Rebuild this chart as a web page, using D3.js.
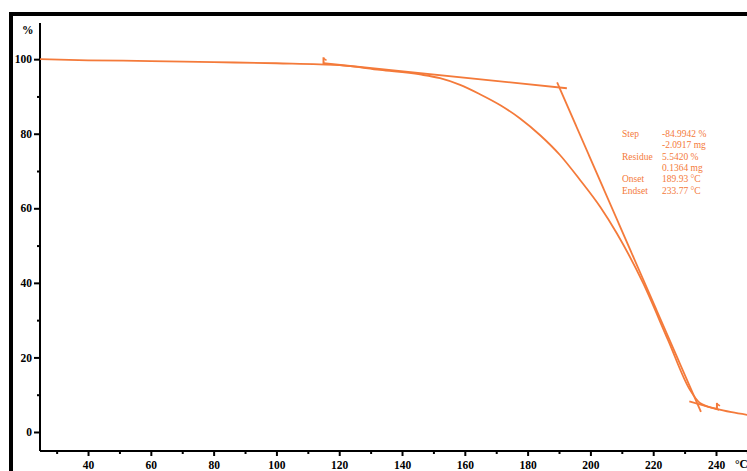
<!DOCTYPE html>
<html>
<head>
<meta charset="utf-8">
<script src="https://cdn.jsdelivr.net/npm/d3@7/dist/d3.min.js"></script>
<style>
  html, body { margin: 0; padding: 0; background: #fff; }
  svg { display: block; }
  .tick text { font-family: "Liberation Serif", "Times New Roman", serif; font-weight: bold; font-size: 11.5px; fill: #000; }
</style>
</head>
<body>
<svg id="chart" width="747" height="471"></svg>
<script>
// TGA mass-loss curve (temperature in °C, mass in %)
const temperature = [24.7, 40, 60, 80, 100, 120, 133, 145.7, 152.1, 158.5, 164.8, 171.2, 177.6, 184.0, 190.3, 196.7, 203.1, 208.4, 216.8, 224.7, 231.7, 234.9, 240.3, 245, 249.9];
const massPct     = [100.0, 99.7, 99.5, 99.2, 98.9, 98.4, 97.1, 95.9, 94.9, 93.1, 90.6, 87.7, 84.1, 79.6, 74.3, 67.6, 60.4, 53.3, 39.9, 24.7, 11.3, 7.8, 6.2, 5.3, 4.6];

// Evaluation tangents: [temperature, mass] end points
const baselineTangent = [[115, 98.9], [192.5, 92.2]];
const stepTangent     = [[189.4, 93.8], [235.2, 5.4]];
const residueTangent  = [[231.5, 8.2], [241, 5.9]];

// Evaluation limit markers
const limitMarkers = [[115, 98.9], [240.3, 6.2]];

// Axis ticks
const yMajorTicks = [0, 20, 40, 60, 80, 100];
const yMinorTicks = [10, 30, 50, 70, 90];
const xMajorTicks = [40, 60, 80, 100, 120, 140, 160, 180, 200, 220, 240];
const xMinorTicks = [30, 50, 70, 90, 110, 130, 150, 170, 190, 210, 230, 250];

// Result annotations
const resultLabels = ["Step", "", "Residue", "", "Onset", "Endset"];
const resultValues = ["-84.9942 %", "-2.0917 mg", "5.5420 %", "0.1364 mg", "189.93 °C", "233.77 °C"];

const orange = "#f47a3a";
const svg = d3.select("#chart");

// outer frame
svg.append("rect")
  .attr("x", 11).attr("y", 14)
  .attr("width", 760).attr("height", 480)
  .attr("fill", "none").attr("stroke", "#000").attr("stroke-width", 4);

const x = d3.scaleLinear().domain([24.7, 250]).range([40, 747.4]);
const y = d3.scaleLinear().domain([-5.1, 109.7]).range([451, 23]);

// y axis
const yAxisG = svg.append("g").attr("transform", "translate(40,0)");
yAxisG.call(d3.axisLeft(y).tickValues(yMajorTicks).tickSize(6).tickPadding(2).tickFormat(d3.format("d")));
yAxisG.append("g").call(d3.axisLeft(y).tickValues(yMinorTicks).tickSize(3).tickFormat(""));
yAxisG.selectAll(".domain").remove();
yAxisG.selectAll("line").attr("stroke", "#000").attr("stroke-width", 2);
yAxisG.append("line").attr("x1", 0).attr("x2", 0).attr("y1", y.range()[1]).attr("y2", y.range()[0])
  .attr("stroke", "#000").attr("stroke-width", 2);

// x axis
const xAxisG = svg.append("g").attr("transform", "translate(0,451)");
xAxisG.call(d3.axisBottom(x).tickValues(xMajorTicks).tickSize(5).tickPadding(5).tickFormat(d3.format("d")));
xAxisG.append("g").call(d3.axisBottom(x).tickValues(xMinorTicks).tickSize(3).tickFormat(""));
xAxisG.selectAll(".domain").remove();
xAxisG.selectAll("line").attr("stroke", "#000").attr("stroke-width", 2);
xAxisG.append("line").attr("x1", x.range()[0]).attr("x2", 747).attr("y1", 0).attr("y2", 0)
  .attr("stroke", "#000").attr("stroke-width", 2);

// axis units
const unitFont = { "font-family": "Liberation Serif, serif", "font-weight": "bold", "font-size": "11.5px" };
const pct = svg.append("text").attr("x", 22).attr("y", 34).text("%");
const degC = svg.append("text").attr("x", 735).attr("y", 468).text("°C");
[pct, degC].forEach(t => Object.entries(unitFont).forEach(([k, v]) => t.attr(k, v)));

// mass curve
const line = d3.line().x(d => x(d[0])).y(d => y(d[1])).curve(d3.curveMonotoneX);
svg.append("path")
  .datum(temperature.map((t, i) => [t, massPct[i]]))
  .attr("d", line)
  .attr("fill", "none").attr("stroke", orange).attr("stroke-width", 1.8);

// tangents
const straight = d3.line().x(d => x(d[0])).y(d => y(d[1]));
[baselineTangent, stepTangent, residueTangent].forEach(seg => {
  svg.append("path").attr("d", straight(seg))
    .attr("fill", "none").attr("stroke", orange).attr("stroke-width", 1.8);
});

// limit markers
limitMarkers.forEach(([t, m]) => {
  const px = x(t), py = y(m);
  svg.append("line").attr("x1", px).attr("x2", px).attr("y1", py - 6).attr("y2", py + 1)
    .attr("stroke", orange).attr("stroke-width", 2);
  svg.append("line").attr("x1", px).attr("x2", px + 3).attr("y1", py - 5).attr("y2", py - 3)
    .attr("stroke", orange).attr("stroke-width", 1.5);
});

// result annotations
const ann = svg.append("g")
  .attr("font-family", "Liberation Serif, serif")
  .attr("font-size", "9.5px")
  .attr("fill", orange);
resultLabels.forEach((lab, i) => {
  if (lab) ann.append("text").attr("x", 622).attr("y", 137 + i * 11.3).text(lab);
  ann.append("text").attr("x", 662).attr("y", 137 + i * 11.3).text(resultValues[i]);
});
</script>
</body>
</html>
